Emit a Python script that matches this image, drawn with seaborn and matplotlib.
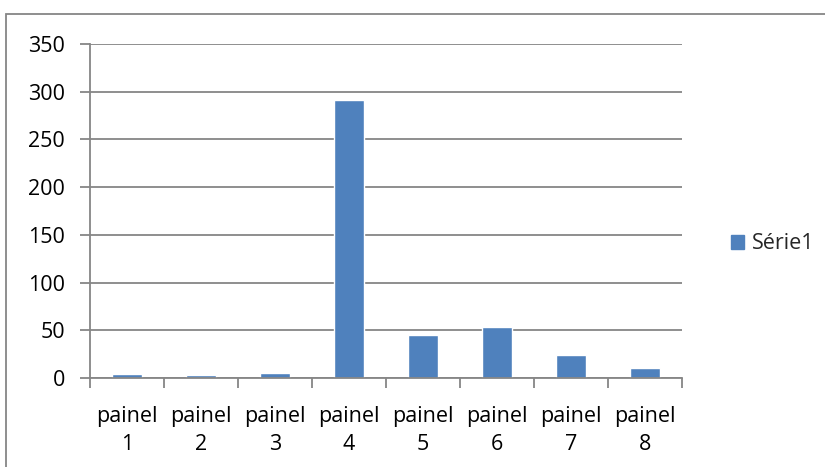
import matplotlib
matplotlib.use("Agg")
import matplotlib.pyplot as plt
from matplotlib.patches import Rectangle
from matplotlib.ticker import FixedLocator
import seaborn as sns
import pandas as pd
import numpy as np

categories = ["painel\n1", "painel\n2", "painel\n3", "painel\n4",
              "painel\n5", "painel\n6", "painel\n7", "painel\n8"]
values = [4, 3, 5, 291, 45, 53, 24, 10]
series_name = "Série1"
y_ticks = [0, 50, 100, 150, 200, 250, 300, 350]

sns.set_theme(style="white")
plt.rcParams["font.family"] = ["Open Sans", "DejaVu Sans"]

bar_color = "#4F81BD"
line_gray = "#868686"
font_size = 15.5

fig = plt.figure(figsize=(8.25, 4.67), dpi=100)
ax = fig.add_axes([90 / 825, 1 - 378 / 467, (682 - 90) / 825, (378 - 44) / 467])

df = pd.DataFrame({"categoria": categories, "valor": values})
sns.barplot(data=df, x="categoria", y="valor", color=bar_color, width=0.40,
            saturation=1, ax=ax, label=series_name, legend=False)

ax.set_xlim(-0.5, len(categories) - 0.5)
ax.set_ylim(0, 350)
ax.set_yticks(y_ticks)
ax.set_xlabel("")
ax.set_ylabel("")

ax.yaxis.grid(True, color=line_gray, linewidth=1.3)
ax.set_axisbelow(True)
for side in ["top", "right"]:
    ax.spines[side].set_visible(False)
ax.spines["left"].set_color(line_gray)
ax.spines["bottom"].set_color(line_gray)
ax.spines["left"].set_linewidth(1.3)
ax.spines["bottom"].set_linewidth(1.3)

ax.tick_params(axis="y", which="major", left=True, length=7, width=1.3,
               color=line_gray, labelsize=font_size, pad=11, labelcolor="black")
ax.tick_params(axis="x", which="major", bottom=False, labelsize=font_size,
               pad=14, labelcolor="black")
ax.xaxis.set_minor_locator(FixedLocator(np.arange(-0.5, len(categories), 1.0)))
ax.tick_params(axis="x", which="minor", bottom=True, length=7, width=1.3,
               color=line_gray)
for lbl in ax.get_xticklabels():
    lbl.set_linespacing(1.45)

handle = Rectangle((0, 0), 1, 1, color=bar_color)
fig.legend([handle], [series_name], loc="center left",
           bbox_to_anchor=(712 / 825, 1 - 244 / 467), frameon=False,
           fontsize=font_size, handlelength=0.6, handleheight=0.6,
           handletextpad=0.35)

fig.patches.append(Rectangle((6 / 825, -0.1), 1.2, 1 - 14 / 467 + 0.1,
                             transform=fig.transFigure, fill=False,
                             edgecolor=line_gray, linewidth=1.3))

fig.savefig("out.png", dpi=100)
